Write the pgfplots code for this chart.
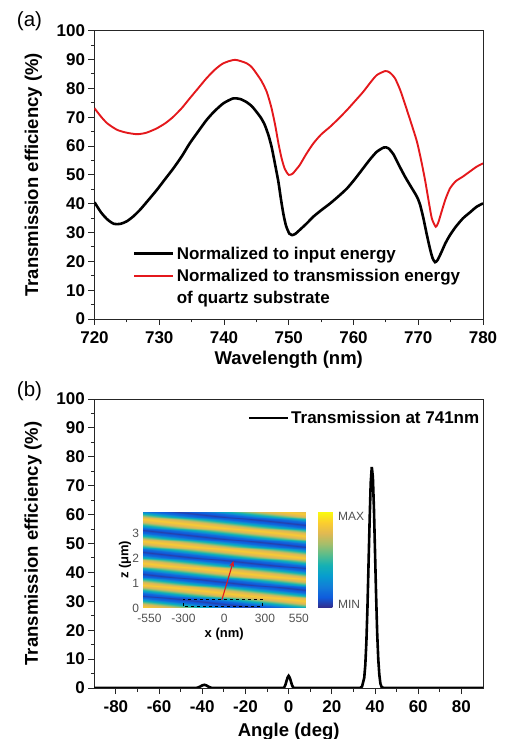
\documentclass[border=0pt]{standalone}
\usepackage{fontspec}
\setmainfont{Liberation Sans}
\usepackage{pgfplots}
\pgfplotsset{compat=1.18}
\usetikzlibrary{arrows.meta}
\definecolor{myred}{RGB}{228,24,28}
\definecolor{tickgray}{RGB}{80,80,80}

\pgfplotsset{
  panel/.style={
    scale only axis,
    axis line style={black!85, line width=0.9pt},
    tick style={black!85, line width=0.9pt},
    tick align=outside, tick pos=left,
    major tick length=6pt, minor tick length=3.5pt,
    minor x tick num=1, minor y tick num=1,
    ymin=0, ymax=100, ytick={0,10,...,100},
    /pgf/number format/assume math mode=true,
    tick label style={font=\fontsize{17}{20}\selectfont\bfseries},
    xticklabel style={yshift=-3pt},
    label style={font=\fontsize{18.5}{22}\selectfont\bfseries},
    legend image code/.code={\draw[##1] (0pt,0pt) -- (39pt,0pt);},
    legend cell align=left,
  },
}

\begin{document}
\begin{tikzpicture}
\useasboundingbox (0,0) rectangle (505pt,739pt);

% (a) spectra
\begin{axis}[panel,
  at={(94.5pt,420pt)}, anchor=south west,
  width=388.5pt, height=288.3pt,
  xmin=720, xmax=780, xtick={720,730,...,780},
  xlabel={Wavelength (nm)},
  ylabel={Transmission efficiency (\%)},
  xlabel style={at={(axis description cs:0.5,-0.159)}, anchor=base},
  ylabel style={at={(axis description cs:-0.1454,0.5)}, anchor=base},
  legend style={draw=none, fill=none, at={(0.099,0.258)}, anchor=north west,
    inner sep=0pt, row sep=4.5pt, font=\fontsize{17}{20}\selectfont\bfseries},
]
\addplot[black, line width=2.6pt, smooth, tension=0.4] coordinates {
(720,40.5) (721,37.0) (722,34.5) (723,33.0) (724,33.0) (725,33.9) (726,35.6)
(727,37.8) (728,40.4) (729.6,44.7) (731,48.8) (732.2,52.3) (733.5,56.5)
(734.7,60.9) (736,65.0) (737.3,69.0) (738.5,72.0) (739.9,74.8) (741.4,76.5)
(742.5,76.3) (743.5,75.2) (744.3,73.8) (745,71.9) (745.7,69.8) (746.3,67.3)
(746.9,63.5) (747.4,59.2) (747.9,53.5) (748.4,47.6) (748.8,41.5) (749.2,36.1)
(749.6,32.2) (750.1,29.6) (750.5,29.1) (751.0,29.5) (751.7,30.9) (752.8,33.2)
(753.8,35.5) (755,37.7) (756.4,40.1) (757.7,42.6) (759.0,45.3) (760.2,48.5)
(761.5,52.3) (762.6,55.5) (763.6,58.0) (764.7,59.5) (765.4,59.2) (766.2,57.0)
(767.1,53.0) (768.0,49.2) (768.9,45.8) (769.8,42.4) (770.3,39.5) (770.8,34.9)
(771.3,29.5) (771.8,24.5) (772.2,21.2) (772.6,19.7) (773.0,20.5) (773.6,23.3)
(774.2,26.3) (774.9,29.1) (775.8,32.0) (776.9,34.9) (778,37.0) (779.0,38.9)
(780,40.1)
};
\addlegendentry{Normalized to input energy}
\addplot[myred, line width=1.9pt, smooth, tension=0.4] coordinates {
(720,73.1) (721,70.2) (722,67.8) (723.5,65.6) (725,64.6) (726.6,64.1) (728,64.6)
(729.6,66.1) (731,68.0) (732.2,70.2) (733.5,73.2) (734.7,76.5) (736,80.0)
(737.3,83.5) (738.6,86.5) (739.9,88.7) (741.7,89.9) (743.5,88.7) (744.3,87.3)
(745,85.2) (745.8,82.5) (746.6,78.8) (747.3,73.5) (747.9,67.3) (748.4,61.0)
(748.9,55.7) (749.4,52.0) (750.0,50.0) (750.6,50.4) (751.2,52.0) (751.7,53.4)
(752.7,57.2) (753.8,60.9) (755,64.0) (756.4,66.7) (757.7,69.5) (759.0,72.5)
(760.2,75.5) (761.5,78.8) (762.6,82.0) (763.6,84.6) (764.9,86.0) (765.6,85.5)
(766.4,83.5) (767.2,79.5) (768.0,74.2) (768.9,68.0) (769.8,61.5) (770.5,54.5)
(771.1,47.6) (771.6,41.0) (772.1,34.9) (772.7,32.0) (773.1,33.5) (773.6,37.2)
(774.2,41.5) (774.9,45.3) (775.8,47.8) (776.9,49.4) (778,51.2) (779,52.8)
(780,54.0)
};
\addlegendentry{Normalized to transmission energy}
\addlegendimage{empty legend}
\addlegendentry{of quartz substrate}
\end{axis}

% (b) angular distribution
\begin{axis}[panel,
  at={(94.3pt,51pt)}, anchor=south west,
  width=388.7pt, height=289pt,
  xmin=-90, xmax=90, xtick={-80,-60,...,80},
  xlabel={Angle (deg)},
  ylabel={Transmission efficiency (\%)},
  xlabel style={at={(axis description cs:0.5,-0.168)}, anchor=base},
  ylabel style={at={(axis description cs:-0.145,0.5)}, anchor=base},
  legend style={draw=none, fill=none, at={(0.996,0.966)}, anchor=north east,
    inner sep=0pt, font=\fontsize{17}{20}\selectfont\bfseries},
]
\addplot[black, line width=2.6pt] coordinates {
(-90,0) (-43,0) (-42,0.15) (-41,0.5) (-40,0.9) (-39,1.1) (-38,0.85) (-37,0.4)
(-36,0.1) (-35,0) (-2.5,0) (-2,0.3) (-1.5,1.1) (-1,2.4) (-0.5,3.6) (0,4.2)
(0.5,3.6) (1,2.4) (1.5,1.1) (2,0.3) (2.5,0) (33,0) (34,0.5) (35,3.5) (35.5,8)
(36,16) (36.5,28) (37,43) (37.5,58) (38,71) (38.5,76.5) (39,73) (39.5,62)
(40,47) (40.5,32) (41,19) (41.5,10) (42,4.5) (42.5,1.5) (43,0.4) (44,0) (90,0)
};
\addlegendentry{Transmission at 741nm}
\end{axis}

% inset field map
\begin{axis}[
  at={(142.7pt,131pt)}, anchor=south west,
  scale only axis, width=163pt, height=96.3pt,
  view={0}{90},
  xmin=-600, xmax=600, ymin=0, ymax=3.85, zmin=-1, zmax=1,
  enlargelimits=false,
  axis line style={draw=none}, major tick length=0pt,
  xtick={-550,-300,0,300,550}, ytick={0,1,2,3},
  /pgf/number format/assume math mode=true,
  tick label style={font=\fontsize{12}{14}\selectfont, text=tickgray},
  xticklabel style={yshift=-3pt},
  xlabel={x (nm)}, ylabel={z (μm)},
  label style={font=\fontsize{13}{15}\selectfont\bfseries},
  xlabel style={at={(axis description cs:0.5,-0.273)}, anchor=center},
  ylabel style={at={(axis description cs:-0.108,0.5)}, anchor=center},
  colormap={parula}{rgb255=(53,42,135) rgb255=(15,92,221) rgb255=(18,125,216)
    rgb255=(7,156,207) rgb255=(21,177,180) rgb255=(89,189,140)
    rgb255=(165,190,107) rgb255=(225,185,82) rgb255=(252,206,46)
    rgb255=(249,251,14)},
  point meta min=0.03, point meta max=1.05,
  colorbar,
  colorbar style={at={(parent axis.north east)}, anchor=north west,
    xshift=4pt, width=16.3pt,
    axis line style={draw=none}, major tick length=0pt,
    ytick={0.066,1.0}, yticklabels={MIN,MAX},
    yticklabel style={font=\fontsize{12}{14}\selectfont, text=tickgray}},
]
\addplot3[surf, shader=interp, mesh/cols=7, point meta=explicit]
  table[x=x, y=z, z expr=0, meta=c] {
x z c
-600 -0.050 0.80
-400 -0.050 0.92
-200 -0.050 0.80
0 -0.050 0.50
200 -0.050 0.20
400 -0.050 0.08
600 -0.050 0.20
-600 0.059 0.92
-400 0.059 0.80
-200 0.059 0.50
0 0.059 0.20
200 0.059 0.08
400 0.059 0.20
600 0.059 0.50
-600 0.168 0.80
-400 0.168 0.50
-200 0.168 0.20
0 0.168 0.08
200 0.168 0.20
400 0.168 0.50
600 0.168 0.80
-600 0.276 0.50
-400 0.276 0.20
-200 0.276 0.08
0 0.276 0.20
200 0.276 0.50
400 0.276 0.80
600 0.276 0.92
-600 0.385 0.20
-400 0.385 0.08
-200 0.385 0.20
0 0.385 0.50
200 0.385 0.80
400 0.385 0.92
600 0.385 0.80
-600 0.494 0.08
-400 0.494 0.20
-200 0.494 0.50
0 0.494 0.80
200 0.494 0.92
400 0.494 0.80
600 0.494 0.50
-600 0.603 0.20
-400 0.603 0.50
-200 0.603 0.80
0 0.603 0.92
200 0.603 0.80
400 0.603 0.50
600 0.603 0.20
-600 0.711 0.50
-400 0.711 0.80
-200 0.711 0.92
0 0.711 0.80
200 0.711 0.50
400 0.711 0.20
600 0.711 0.08
-600 0.820 0.80
-400 0.820 0.92
-200 0.820 0.80
0 0.820 0.50
200 0.820 0.20
400 0.820 0.08
600 0.820 0.20
-600 0.929 0.92
-400 0.929 0.80
-200 0.929 0.50
0 0.929 0.20
200 0.929 0.08
400 0.929 0.20
600 0.929 0.50
-600 1.038 0.80
-400 1.038 0.50
-200 1.038 0.20
0 1.038 0.08
200 1.038 0.20
400 1.038 0.50
600 1.038 0.80
-600 1.146 0.50
-400 1.146 0.20
-200 1.146 0.08
0 1.146 0.20
200 1.146 0.50
400 1.146 0.80
600 1.146 0.92
-600 1.255 0.20
-400 1.255 0.08
-200 1.255 0.20
0 1.255 0.50
200 1.255 0.80
400 1.255 0.92
600 1.255 0.80
-600 1.364 0.08
-400 1.364 0.20
-200 1.364 0.50
0 1.364 0.80
200 1.364 0.92
400 1.364 0.80
600 1.364 0.50
-600 1.473 0.20
-400 1.473 0.50
-200 1.473 0.80
0 1.473 0.92
200 1.473 0.80
400 1.473 0.50
600 1.473 0.20
-600 1.581 0.50
-400 1.581 0.80
-200 1.581 0.92
0 1.581 0.80
200 1.581 0.50
400 1.581 0.20
600 1.581 0.08
-600 1.690 0.80
-400 1.690 0.92
-200 1.690 0.80
0 1.690 0.50
200 1.690 0.20
400 1.690 0.08
600 1.690 0.20
-600 1.799 0.92
-400 1.799 0.80
-200 1.799 0.50
0 1.799 0.20
200 1.799 0.08
400 1.799 0.20
600 1.799 0.50
-600 1.908 0.80
-400 1.908 0.50
-200 1.908 0.20
0 1.908 0.08
200 1.908 0.20
400 1.908 0.50
600 1.908 0.80
-600 2.016 0.50
-400 2.016 0.20
-200 2.016 0.08
0 2.016 0.20
200 2.016 0.50
400 2.016 0.80
600 2.016 0.92
-600 2.125 0.20
-400 2.125 0.08
-200 2.125 0.20
0 2.125 0.50
200 2.125 0.80
400 2.125 0.92
600 2.125 0.80
-600 2.234 0.08
-400 2.234 0.20
-200 2.234 0.50
0 2.234 0.80
200 2.234 0.92
400 2.234 0.80
600 2.234 0.50
-600 2.343 0.20
-400 2.343 0.50
-200 2.343 0.80
0 2.343 0.92
200 2.343 0.80
400 2.343 0.50
600 2.343 0.20
-600 2.451 0.50
-400 2.451 0.80
-200 2.451 0.92
0 2.451 0.80
200 2.451 0.50
400 2.451 0.20
600 2.451 0.08
-600 2.560 0.80
-400 2.560 0.92
-200 2.560 0.80
0 2.560 0.50
200 2.560 0.20
400 2.560 0.08
600 2.560 0.20
-600 2.669 0.92
-400 2.669 0.80
-200 2.669 0.50
0 2.669 0.20
200 2.669 0.08
400 2.669 0.20
600 2.669 0.50
-600 2.778 0.80
-400 2.778 0.50
-200 2.778 0.20
0 2.778 0.08
200 2.778 0.20
400 2.778 0.50
600 2.778 0.80
-600 2.886 0.50
-400 2.886 0.20
-200 2.886 0.08
0 2.886 0.20
200 2.886 0.50
400 2.886 0.80
600 2.886 0.92
-600 2.995 0.20
-400 2.995 0.08
-200 2.995 0.20
0 2.995 0.50
200 2.995 0.80
400 2.995 0.92
600 2.995 0.80
-600 3.104 0.08
-400 3.104 0.20
-200 3.104 0.50
0 3.104 0.80
200 3.104 0.92
400 3.104 0.80
600 3.104 0.50
-600 3.213 0.20
-400 3.213 0.50
-200 3.213 0.80
0 3.213 0.92
200 3.213 0.80
400 3.213 0.50
600 3.213 0.20
-600 3.321 0.50
-400 3.321 0.80
-200 3.321 0.92
0 3.321 0.80
200 3.321 0.50
400 3.321 0.20
600 3.321 0.08
-600 3.430 0.80
-400 3.430 0.92
-200 3.430 0.80
0 3.430 0.50
200 3.430 0.20
400 3.430 0.08
600 3.430 0.20
-600 3.539 0.92
-400 3.539 0.80
-200 3.539 0.50
0 3.539 0.20
200 3.539 0.08
400 3.539 0.20
600 3.539 0.50
-600 3.648 0.80
-400 3.648 0.50
-200 3.648 0.20
0 3.648 0.08
200 3.648 0.20
400 3.648 0.50
600 3.648 0.80
-600 3.756 0.50
-400 3.756 0.20
-200 3.756 0.08
0 3.756 0.20
200 3.756 0.50
400 3.756 0.80
600 3.756 0.92
-600 3.865 0.20
-400 3.865 0.08
-200 3.865 0.20
0 3.865 0.50
200 3.865 0.80
400 3.865 0.92
600 3.865 0.80
};
\draw[black, dashed, line width=0.9pt] (axis cs:-300,0.06,0) rectangle (axis cs:280,0.36,0);
\draw[myred, line width=1.1pt, -{Stealth[length=6pt,width=5pt]}] (axis cs:-17,0.33,0) -- (axis cs:68,1.88,0);
\end{axis}

\node[font=\fontsize{20.5}{24}\selectfont] at (29.5pt,718pt) {(a)};
\node[font=\fontsize{20.5}{24}\selectfont] at (29.5pt,348pt) {(b)};
\end{tikzpicture}
\end{document}
